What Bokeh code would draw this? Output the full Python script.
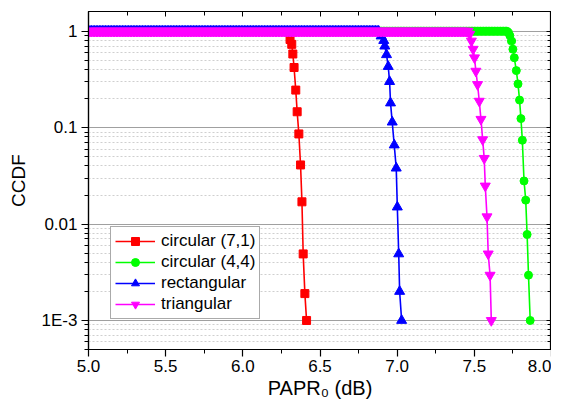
import numpy as np
from bokeh.plotting import figure
from bokeh.models import (FixedTicker, LogAxis, LinearAxis, Legend, LegendItem,
                          CustomJSTickFormatter)
from bokeh.embed import file_html
from bokeh.resources import INLINE

# ---- data ----
papr_step = 0.01
plateau_end = {"c71": 6.29, "c44": 7.71, "rect": 6.88, "tri": 7.46}

x_c71 = [6.306, 6.317, 6.324, 6.332, 6.343, 6.352, 6.363, 6.374, 6.383, 6.391, 6.402, 6.413]
y_c71 = [0.82, 0.73, 0.58, 0.42, 0.245, 0.146, 0.086, 0.041, 0.017, 0.0049, 0.0019, 0.001]

x_c44 = [7.72, 7.73, 7.741, 7.750, 7.759, 7.772, 7.783, 7.793, 7.802, 7.811, 7.822, 7.833, 7.842, 7.851, 7.862]
y_c44 = [0.97, 0.90, 0.79, 0.65, 0.53, 0.39, 0.284, 0.193, 0.124, 0.074, 0.028, 0.0177, 0.0078, 0.00295, 0.001]

x_rect = [6.896, 6.913, 6.920, 6.931, 6.942, 6.951, 6.957, 6.968, 6.981, 6.994, 7.001, 7.010, 7.016, 7.029]
y_rect = [0.89, 0.80, 0.70, 0.57, 0.43, 0.30, 0.18, 0.114, 0.066, 0.038, 0.015, 0.0049, 0.002, 0.001]

x_tri = [7.47, 7.481, 7.492, 7.501, 7.510, 7.521, 7.532, 7.543, 7.554, 7.564, 7.571, 7.582, 7.590, 7.602, 7.610]
y_tri = [0.93, 0.79, 0.65, 0.53, 0.385, 0.28, 0.188, 0.122, 0.075, 0.048, 0.0248, 0.0119, 0.0049, 0.00295, 0.001]

labels = ["circular (7,1)", "circular (4,4)", "rectangular", "triangular"]
x_ticks = [5.0, 5.5, 6.0, 6.5, 7.0, 7.5, 8.0]
y_ticks = [0.001, 0.01, 0.1, 1.0]
y_tick_labels = ["1E-3", "0.01", "0.1", "1"]


def series(key, xd, yd):
    xp = list(np.round(np.arange(5.0, plateau_end[key] + 1e-9, papr_step), 3))
    return xp + list(xd), [1.0] * len(xp) + list(yd)


FONT = "Liberation Sans"

p = figure(width=551, height=406, x_range=(5.0, 8.0), y_range=(5e-4, 1.6),
           y_axis_type="log", output_backend="svg", toolbar_location=None,
           min_border_left=88, min_border_right=0, min_border_top=11,
           min_border_bottom=57)
p.outline_line_color = "black"
p.outline_line_width = 1.2
p.background_fill_color = "white"
p.border_fill_color = "white"

# grids
p.xgrid.grid_line_color = None
p.ygrid.grid_line_color = "#a0a0a0"
p.ygrid.grid_line_width = 1
p.ygrid.minor_grid_line_color = "#cfcfcf"
p.ygrid.minor_grid_line_dash = "2 2"

minor_y = [m * 10.0 ** e for e in range(-4, 1) for m in range(2, 10)]
minor_x = [5.25, 5.75, 6.25, 6.75, 7.25, 7.75]

yt = FixedTicker(ticks=y_ticks, minor_ticks=minor_y)
xt = FixedTicker(ticks=x_ticks, minor_ticks=minor_x)

# left / bottom axes
xa = p.xaxis[0]
ya = p.yaxis[0]
xa.ticker = xt
ya.ticker = yt
p.ygrid.ticker = yt
ya.major_label_overrides = {v: s for v, s in zip(y_ticks, y_tick_labels)}
xa.formatter = CustomJSTickFormatter(code="return tick.toFixed(1);")
for ax in (xa, ya):
    ax.axis_line_color = "black"
    ax.axis_line_width = 1.2
    ax.major_tick_in = 0
    ax.major_tick_out = 7
    ax.minor_tick_in = 0
    ax.minor_tick_out = 4
    ax.major_tick_line_width = 1.2
    ax.major_label_text_font = FONT
    ax.major_label_text_font_size = "17px"
    ax.major_label_text_color = "black"
    ax.axis_label_text_font = FONT
    ax.axis_label_text_font_style = "normal"
    ax.axis_label_text_color = "black"
xa.axis_label_text_font_size = "20px"
ya.axis_label_text_font_size = "19px"
xa.axis_label = "PAPR\u2080 (dB)"
ya.axis_label = "CCDF"
xa.major_label_standoff = 3
ya.major_label_standoff = 4
xa.axis_label_standoff = 2
ya.axis_label_standoff = 10

# mirror axes (top / right) with inward ticks, no labels
top = LinearAxis(ticker=FixedTicker(ticks=x_ticks, minor_ticks=minor_x))
right = LogAxis(ticker=FixedTicker(ticks=y_ticks, minor_ticks=minor_y))
for ax in (top, right):
    ax.major_tick_in = 5
    ax.major_tick_out = 0
    ax.minor_tick_in = 4
    ax.minor_tick_out = 0
    ax.major_label_text_font_size = "0px"
    ax.major_label_standoff = 0
    ax.axis_label_standoff = 0
    ax.axis_label_text_font_size = "0px"
    ax.axis_line_color = "black"
    ax.axis_line_width = 1.2
    ax.formatter = CustomJSTickFormatter(code="return '';")
p.add_layout(top, "above")
p.add_layout(right, "right")

# series
specs = [
    ("c71", x_c71, y_c71, "#ff0000", "square", 8),
    ("c44", x_c44, y_c44, "#00ff00", "circle", 8),
    ("rect", x_rect, y_rect, "#0000ff", "triangle", 10),
    ("tri", x_tri, y_tri, "#ff00ff", "inverted_triangle", 10),
]
items = []
for (key, xd, yd, col, mk, sz), lab in zip(specs, labels):
    xs, ys = series(key, xd, yd)
    r1 = p.line(xs, ys, line_color=col, line_width=1.6)
    r2 = p.scatter(xs, ys, marker=mk, size=sz, fill_color=col, line_color=col)
    items.append(LegendItem(label=lab, renderers=[r1, r2]))

legend = Legend(items=items, location=(22, 30))
legend.label_text_font = FONT
legend.label_text_font_size = "17px"
legend.label_text_color = "black"
legend.glyph_width = 40
legend.glyph_height = 20
legend.label_height = 20
legend.spacing = 1
legend.padding = 4
legend.margin = 0
legend.label_standoff = 6
legend.border_line_color = "#555555"
legend.border_line_width = 1
legend.background_fill_alpha = 1
p.add_layout(legend, "center")

open("out.html", "w").write(file_html(p, INLINE))
